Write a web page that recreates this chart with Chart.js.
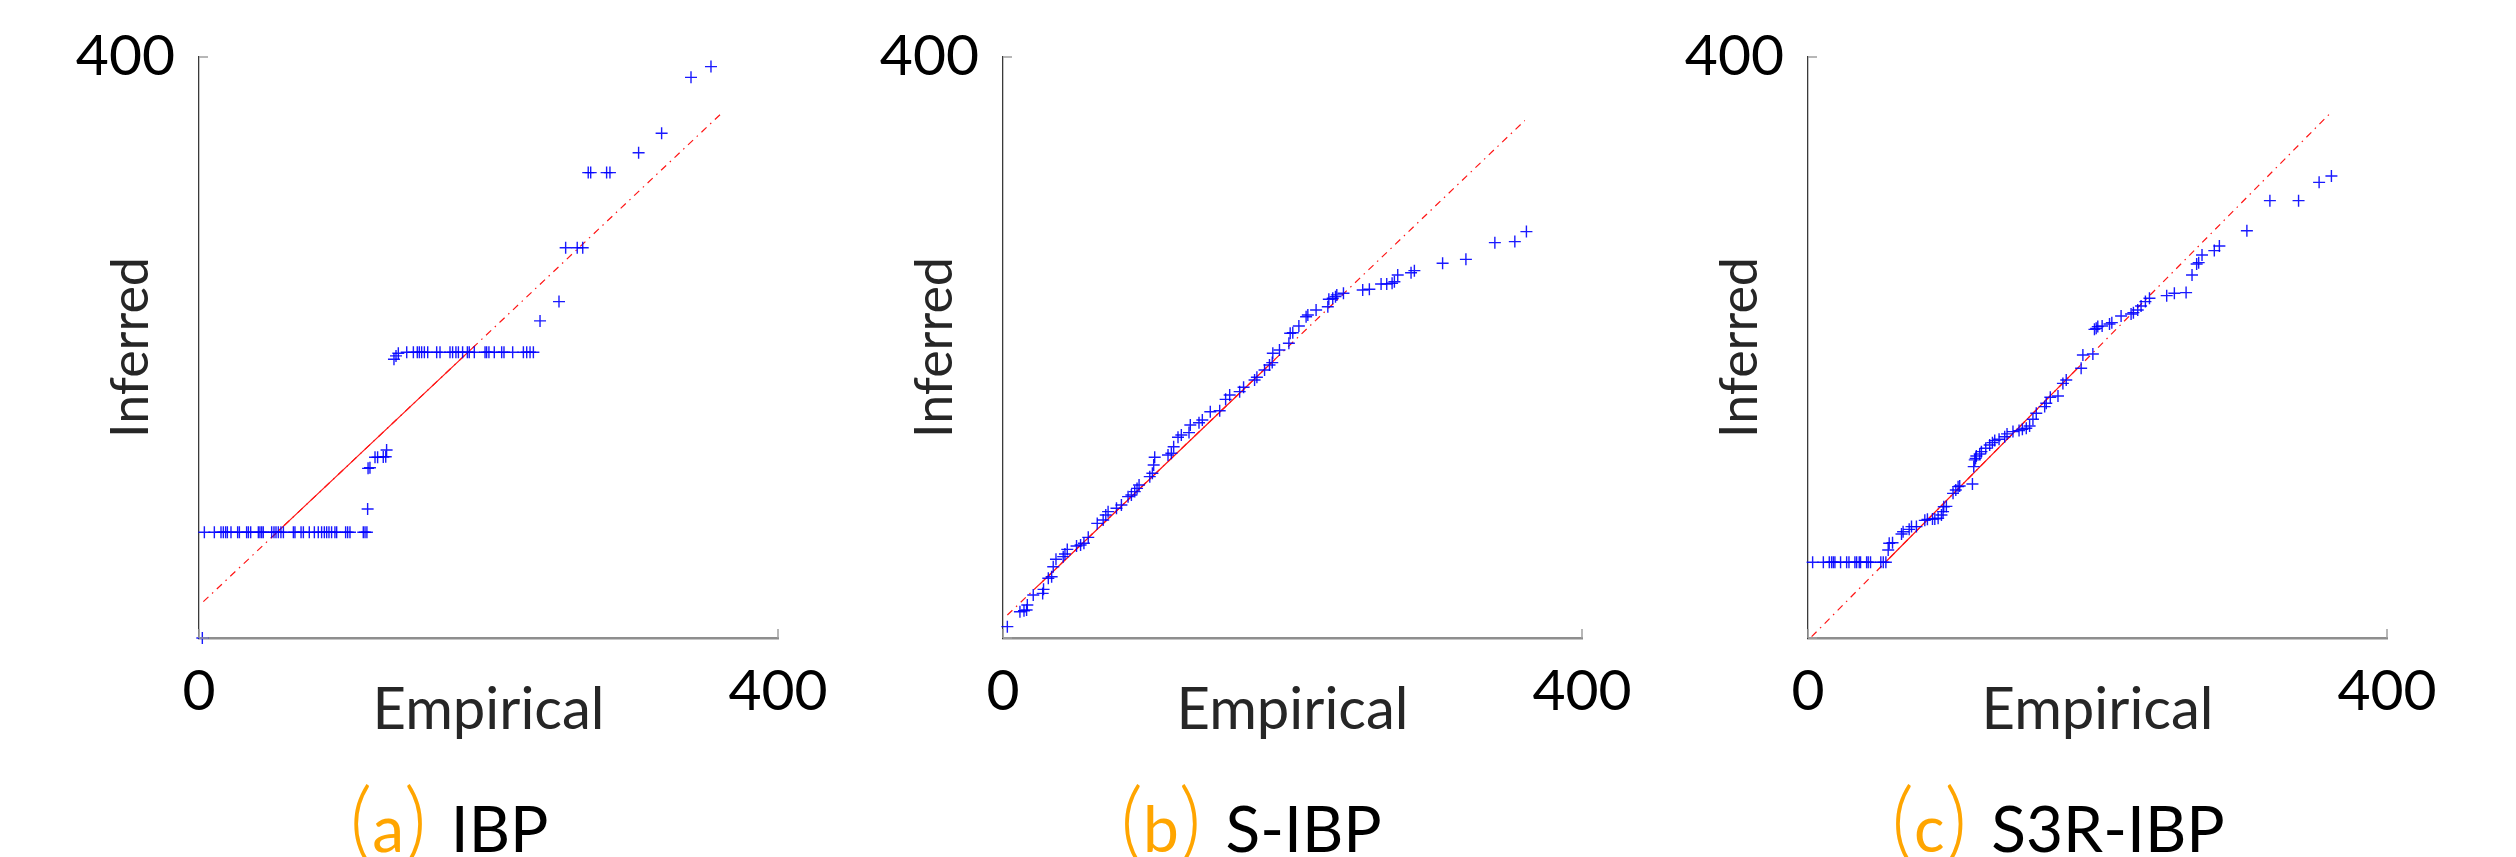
<!DOCTYPE html>
<html>
<head>
<meta charset="utf-8">
<script src="https://cdn.jsdelivr.net/npm/chart.js@4.4.1/dist/chart.umd.min.js"></script>
<style>
  body { margin: 0; background: #fff; width: 2516px; height: 857px; position: relative; overflow: hidden; font-family: Lato, sans-serif; }
  canvas { position: absolute; top: -13px; }
  .caption { position: absolute; top: 786px; width: 500px; text-align: center; font-size: 64px; line-height: 64px; color: #000; white-space: nowrap; }
  .caption .tag { color: #ffa500; margin-right: 24px; }
  .caption .par { font-size: 88px; font-weight: 300; }
</style>
</head>
<body>
<canvas id="qq1" width="858" height="773" style="left:0px"></canvas>
<canvas id="qq2" width="858" height="773" style="left:804px"></canvas>
<canvas id="qq3" width="858" height="773" style="left:1609px"></canvas>
<div class="caption" style="left:199px"><span class="tag"><span class="par">(</span>a<span class="par">)</span></span>IBP</div>
<div class="caption" style="left:1001px"><span class="tag"><span class="par">(</span>b<span class="par">)</span></span>S-IBP</div>
<div class="caption" style="left:1808px"><span class="tag"><span class="par">(</span>c<span class="par">)</span></span>S3R-IBP</div>
<script>
// axis ticks
const tickValues = [0, 400];
const xTickLabels = ['0', '400'];
const yTickLabels = ['', '400'];

// (a) IBP: sorted empirical vs inferred quantiles
const ibpEmpirical = [2.3, 3.7, 10.6, 15.2, 16.8, 18.4, 19.6, 22.1, 26.7, 27.9, 32.9, 34.1, 35.7, 41.0, 42.1, 43.3, 44.4,
  50.2, 51.8, 53.2, 54.8, 56.6, 58.3, 65.2, 66.3, 70.5, 72.1, 76.2, 79.7, 82.4, 84.7, 86.6, 88.2, 89.8, 91.6, 93.9, 95.1,
  101.3, 102.7, 104.3, 113.5, 114.7, 116.0,
  116.5, 116.8, 118.1, 121.6, 123.4, 127.3, 129.0, 129.6,
  134.7, 136.1, 137.7,
  143.5, 148.1, 150.8, 152.2, 153.8, 155.7, 158.0, 164.2, 166.5, 173.4, 175.2, 177.5, 179.2, 182.1, 185.4, 186.7, 190.2,
  197.6, 198.7, 200.3, 204.0, 209.1, 210.7, 216.7, 224.1, 226.4, 228.7, 231.0,
  235.6, 248.7, 253.3, 261.3, 265.1, 268.9, 270.6, 281.6, 283.9, 303.7, 319.6, 339.9, 353.7];
const ibpInferred = [0,
  72.8, 72.8, 72.8, 72.8, 72.8, 72.8, 72.8, 72.8, 72.8, 72.8, 72.8, 72.8, 72.8, 72.8, 72.8, 72.8, 72.8, 72.8, 72.8, 72.8, 72.8,
  72.8, 72.8, 72.8, 72.8, 72.8, 72.8, 72.8, 72.8, 72.8, 72.8, 72.8, 72.8, 72.8, 72.8, 72.8, 72.8, 72.8, 72.8, 72.8, 72.8, 72.8,
  88.8, 116.8, 117.2, 124.4, 124.4, 124.6, 124.8, 129.4,
  191.9, 194.2, 196.0,
  196.7, 196.7, 196.7, 196.7, 196.7, 196.7, 196.7, 196.7, 196.7, 196.7, 196.7, 196.7, 196.7, 196.7,
  196.7, 196.7, 196.7, 196.7, 196.7, 196.7, 196.7, 196.7, 196.7, 196.7, 196.7, 196.7, 196.7, 196.7,
  218.3, 231.6, 268.7, 268.7, 268.7, 320.4, 320.4, 320.4, 320.4, 334.1, 347.5, 386.0, 393.4];
const ibpFitX = [3.0, 362.2];
const ibpFitY = [25.0, 362.4];
const ibpSolidX = [52.5, 190.7];
const ibpSolidY = [71.5, 201.3];

// (b) S-IBP
const sibpEmpirical = [3.0, 11.7, 14.5, 16.3, 16.8, 20.9, 27.4, 28.0, 31.3, 33.6, 34.7, 36.6, 41.6, 42.8, 44.4, 50.8, 53.6,
  55.9, 58.9, 65.1, 69.2, 71.0, 72.6, 78.4, 81.8, 86.4, 88.7, 91.0, 92.6, 94.0, 101.4, 103.2, 104.1, 104.8, 114.0, 116.3,
  117.9, 120.9, 123.2, 128.5, 129.4, 135.4, 137.7, 143.2, 149.7, 153.8, 156.6, 163.5, 166.2, 173.8, 175.4, 180.7, 184.1,
  186.0, 186.4, 191.0, 197.5, 198.4, 200.2, 204.4, 209.4, 210.6, 216.3, 224.4, 225.1, 227.8, 229.7, 230.6, 235.2, 248.5,
  253.1, 261.2, 265.1, 268.8, 270.4, 272.7, 281.9, 284.2, 303.7, 319.8, 339.8, 353.6, 361.6];
const sibpInferred = [7.8, 18.1, 18.8, 19.3, 22.7, 29.6, 30.7, 33.5, 41.1, 42.2, 49.1, 54.2, 56.0, 57.8, 61.0, 63.3, 64.0,
  65.2, 69.3, 78.9, 81.2, 84.7, 87.0, 89.3, 91.6, 97.3, 98.5, 100.8, 103.0, 105.3, 111.1, 113.4, 119.1, 124.4, 126.0, 127.2,
  131.7, 138.2, 139.8, 141.4, 146.6, 148.2, 150.1, 155.8, 156.5, 164.3, 167.3, 169.6, 172.6, 177.6, 179.5, 184.5, 188.0,
  189.6, 196.0, 198.3, 202.9, 209.8, 210.2, 214.8, 221.2, 222.4, 225.8, 228.1, 233.2, 233.9, 235.0, 236.2, 237.3, 239.6,
  240.1, 243.7, 243.7, 244.2, 245.3, 249.9, 251.5, 252.9, 258.0, 260.7, 272.2, 272.9, 279.8];
const sibpFitX = [3.0, 360.5];
const sibpFitY = [15.8, 356.3];
const sibpSolidX = [25.0, 188.0];
const sibpSolidY = [36.7, 191.9];

// (c) S3R-IBP
const s3rEmpirical = [3.2, 10.6, 14.7, 16.3, 17.5, 18.6, 22.5, 26.7, 28.3, 32.4, 33.6, 35.4, 36.3, 40.5, 41.6, 43.2, 50.3, 52.0, 53.8,
  55.4, 56.1, 58.4, 64.6, 65.7, 69.9, 71.5, 74.9,
  80.7, 82.5, 86.0, 87.6, 89.9, 92.2, 93.3, 93.8, 95.6,
  100.2, 102.1, 103.7, 104.8, 113.6,
  114.5, 115.2, 115.8, 116.3, 118.6, 119.8, 122.8, 125.5, 127.4, 129.0, 132.0, 135.9, 137.5, 141.6, 145.8, 148.1, 150.8,
  153.1, 155.4, 157.7, 163.5, 164.6, 167.4, 172.7, 176.1, 178.4,
  188.7, 189.9, 196.8, 197.9, 199.1, 200.2, 203.2, 208.3, 209.9, 216.3, 223.2, 224.8, 227.8, 230.1, 233.1, 235.9, 247.8,
  253.1, 261.2, 265.3, 268.5, 269.9, 272.2, 280.7, 284.2, 303.2, 319.1, 338.9, 353.1, 361.6];
const s3rInferred = [52.1, 52.1, 52.1, 52.1, 52.1, 52.1, 52.1, 52.1, 52.1, 52.1, 52.1, 52.1, 52.1, 52.1, 52.1, 52.1, 52.1, 52.1, 52.1,
  60.6, 65.2, 65.6, 71.6, 73.2, 74.8, 76.7, 76.7,
  81.0, 81.7, 81.9, 82.0, 82.4, 84.7, 87.0, 90.4, 90.6,
  99.6, 101.9, 104.2, 104.6, 106.0,
  118.0, 122.6, 123.7, 125.3, 126.7, 128.3, 130.6, 132.9, 134.5, 135.9, 136.8, 138.6, 140.5, 142.1, 142.8, 143.7, 144.4,
  146.0, 150.6, 154.7, 159.3, 161.6, 165.7, 166.6, 175.3, 177.6,
  185.7, 194.8, 195.5, 212.5, 213.2, 214.4, 214.8, 216.2, 217.1, 221.7, 223.1, 224.0, 225.8, 228.6, 231.6, 233.9, 235.7,
  237.3, 237.8, 249.9, 257.5, 258.4, 263.7, 266.7, 269.9, 280.4, 301.1, 301.1, 313.7, 318.1];
const s3rFitX = [2.5, 360.4];
const s3rFitY = [0.9, 360.9];
const s3rSolidX = [53.8, 188.0];
const s3rSolidY = [52.5, 187.5];

function zip(xs, ys) {
  const n = Math.min(xs.length, ys.length);
  const out = [];
  for (let i = 0; i < n; i++) out.push({ x: xs[i], y: ys[i] });
  return out;
}

Chart.defaults.font.family = 'Lato, sans-serif';

// short inward tick marks like the original plot
const innerTicks = {
  id: 'innerTicks',
  afterDraw(chart) {
    const { ctx, chartArea, scales: { x, y } } = chart;
    ctx.save();
    ctx.strokeStyle = '#a0a0a0';
    ctx.lineWidth = 1.5;
    ctx.beginPath();
    tickValues.forEach(function (v) {
      const py = y.getPixelForValue(v);
      ctx.moveTo(chartArea.left, py);
      ctx.lineTo(chartArea.left + 9, py);
      const px = x.getPixelForValue(v);
      ctx.moveTo(px, chartArea.bottom);
      ctx.lineTo(px, chartArea.bottom - 9);
    });
    ctx.stroke();
    ctx.restore();
  }
};

function makeQQ(id, empirical, inferred, fitX, fitY, solidX, solidY) {
  new Chart(document.getElementById(id), {
    type: 'scatter',
    data: {
      datasets: [{
        data: zip(empirical, inferred),
        pointStyle: 'cross',
        pointRadius: 6,
        pointHoverRadius: 6,
        borderWidth: 1.4,
        borderColor: 'rgba(0,0,255,0.9)',
        clip: false,
        order: 0
      }, {
        data: zip(solidX, solidY),
        showLine: true,
        pointRadius: 0,
        borderColor: 'rgb(255,20,20)',
        borderWidth: 1.2,
        order: 1
      }, {
        data: zip(fitX, fitY),
        showLine: true,
        pointRadius: 0,
        borderColor: 'rgb(255,20,20)',
        borderWidth: 1.2,
        borderDash: [7, 5, 1.5, 5],
        order: 2
      }]
    },
    options: {
      responsive: false,
      animation: false,
      devicePixelRatio: 1,
      // padding bigger than the automatic label overflow so the plot box lands where we want
      layout: { padding: { top: 70, right: 80, bottom: 0, left: 0 } },
      plugins: { legend: { display: false }, tooltip: { enabled: false } },
      scales: {
        x: {
          type: 'linear', min: 0, max: 400,
          afterBuildTicks: function (s) { s.ticks = tickValues.map(v => ({ value: v })); },
          afterFit: function (s) { s.height = 122; },
          grid: { display: false, drawTicks: false },
          border: { display: true, color: '#8e8e8e', width: 2.5 },
          ticks: {
            padding: 19, color: '#000', font: { size: 57 }, maxRotation: 0,
            callback: function (v, i) { return xTickLabels[i]; }
          },
          title: { display: true, text: 'Empirical', color: '#262626', font: { size: 58 }, padding: { top: 0, bottom: 15 } }
        },
        y: {
          type: 'linear', min: 0, max: 400,
          afterBuildTicks: function (s) { s.ticks = tickValues.map(v => ({ value: v })); },
          afterFit: function (s) { s.width = 199; },
          grid: { display: false, drawTicks: false },
          border: { display: true, color: '#3a3a3a', width: 1.3 },
          ticks: {
            padding: 24, color: '#000', font: { size: 57 },
            callback: function (v, i) { return yTickLabels[i]; }
          },
          title: { display: true, text: 'Inferred', color: '#262626', font: { size: 52 }, padding: { top: 100, bottom: 0 } }
        }
      }
    },
    plugins: [innerTicks]
  });
}

makeQQ('qq1', ibpEmpirical, ibpInferred, ibpFitX, ibpFitY, ibpSolidX, ibpSolidY);
makeQQ('qq2', sibpEmpirical, sibpInferred, sibpFitX, sibpFitY, sibpSolidX, sibpSolidY);
makeQQ('qq3', s3rEmpirical, s3rInferred, s3rFitX, s3rFitY, s3rSolidX, s3rSolidY);
</script>
</body>
</html>
